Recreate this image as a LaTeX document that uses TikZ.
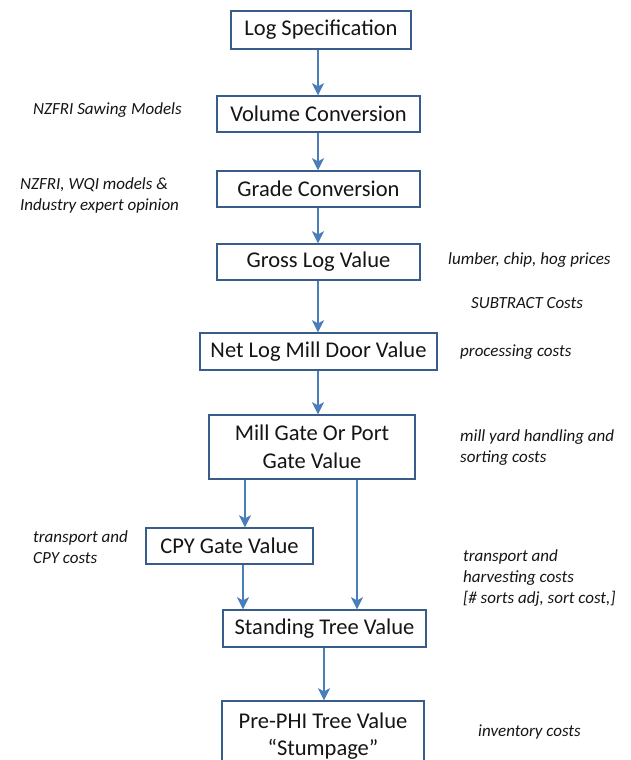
\documentclass[tikz,border=0pt]{standalone}
\usepackage{fontspec}
\setmainfont{Carlito}
\usetikzlibrary{arrows.meta,calc}
\definecolor{arrblue}{HTML}{4A7EBB}
\definecolor{boxblue}{HTML}{385D8A}
\definecolor{txt}{HTML}{151515}
\begin{document}
\begin{tikzpicture}[x=1pt,y=-1pt,
  box/.style={draw=boxblue, line width=1.4pt, fill=white, inner sep=0pt, align=center,
    text=txt, font=\fontsize{22.5}{27.5}\selectfont},
  lbl/.style={anchor=west, inner sep=0pt, align=left, text=txt,
    font=\fontsize{17}{21}\selectfont\itshape},
  arr/.style={draw=arrblue, line width=2.5pt, -{Stealth[length=12pt,width=12pt,inset=3pt]}}]
\clip (0,0) rectangle (631,760);
\fill[white] (0,0) rectangle (631,760);
% boxes
\node[box, minimum width=180, minimum height=38] (logspec) at (321,30) {Log Specification};
\node[box, minimum width=203, minimum height=36] (volume) at (318.5,114) {Volume Conversion};
\node[box, minimum width=203, minimum height=36] (grade) at (318.5,189) {Grade Conversion};
\node[box, minimum width=203, minimum height=36] (gross) at (318.5,262) {Gross Log Value};
\node[box, minimum width=237, minimum height=37] (net) at (318.5,351.5) {Net Log Mill Door Value};
\node[box, minimum width=206, minimum height=64] (mill) at (312,447) {Mill Gate Or Port\\Gate Value};
\node[box, minimum width=167, minimum height=36] (cpy) at (229.5,546) {CPY Gate Value};
\node[box, minimum width=203, minimum height=37] (stand) at (324.5,628.5) {Standing Tree Value};
\node[box, minimum width=202, minimum height=66, text depth=0pt] (pre) at (323,734) {Pre-PHI Tree Value\\\textquotedblleft Stumpage\textquotedblright};
% arrow columns
\coordinate (c1) at (318,0);
\coordinate (c2) at (245,0);
\coordinate (c3) at (357,0);
\coordinate (c4) at (243,0);
\coordinate (c5) at (324,0);
\draw[arr] (logspec.south -| c1) -- (volume.north -| c1);
\draw[arr] (volume.south -| c1) -- (grade.north -| c1);
\draw[arr] (grade.south -| c1) -- (gross.north -| c1);
\draw[arr] (gross.south -| c1) -- (net.north -| c1);
\draw[arr] (net.south -| c1) -- (mill.north -| c1);
\draw[arr] (mill.south -| c2) -- (cpy.north -| c2);
\draw[arr] (mill.south -| c3) -- (stand.north -| c3);
\draw[arr] (cpy.south -| c4) -- (stand.north -| c4);
\draw[arr] (stand.south -| c5) -- (pre.north -| c5);
% labels
\node[lbl] (l1) at (33,110) {NZFRI Sawing Models};
\node[lbl] (l2) at (20,195) {NZFRI, WQI models \&\\Industry expert opinion};
\node[lbl] (r1) at (448,260) {lumber, chip, hog prices};
\node[lbl] (r2) at (471,303) {SUBTRACT Costs};
\node[lbl] (r3) at (460,352) {processing costs};
\node[lbl] (r4) at (460,447.5) {mill yard handling and\\sorting costs};
\node[lbl] (l3) at (33,547) {transport and\\CPY costs};
\node[lbl] (r5) at (463,578) {transport and\\harvesting costs\\{[}\# sorts adj, sort cost,{]}};
\node[lbl] (r6) at (478,732) {inventory costs};
\end{tikzpicture}
\end{document}
